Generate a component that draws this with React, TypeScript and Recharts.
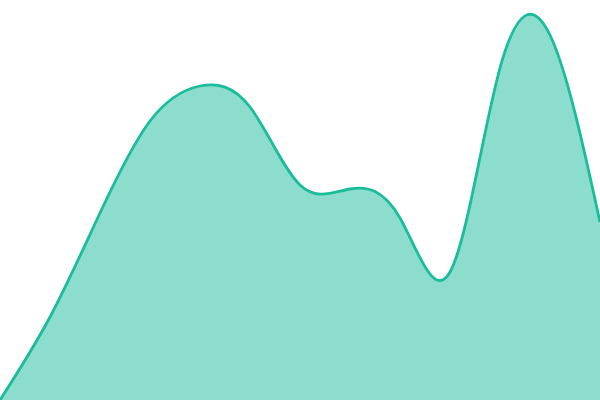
import React from "react";
import { AreaChart, Area, XAxis, YAxis } from "recharts";

const categories = ["1", "2", "3", "4", "5", "6", "7", "8", "9", "10", "11", "12", "13"];
const values = [0, 83, 187, 279, 314, 293, 215, 211, 182, 128, 332, 365, 178];

const data = categories.map((name, i) => ({ name, v: values[i] }));

export default function App() {
  return (
    <div style={{ position: "absolute", left: 0, top: 0, width: 600, height: 400 }}>
      <AreaChart width={600} height={400} data={data} margin={{ top: 0, right: 0, bottom: 0, left: 0 }}>
        <XAxis dataKey="name" hide />
        <YAxis domain={[0, 400]} hide />
        <Area
          type="natural"
          dataKey="v"
          stroke="#1abc9c"
          strokeWidth={2.8}
          fill="#1abc9c"
          fillOpacity={0.5}
          isAnimationActive={false}
          dot={false}
          activeDot={false}
        />
      </AreaChart>
    </div>
  );
}
